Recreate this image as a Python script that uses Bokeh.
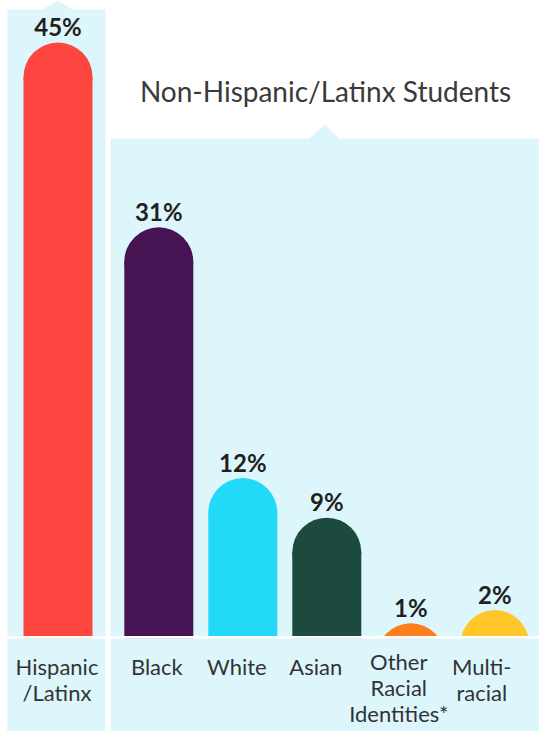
from bokeh.plotting import figure
from bokeh.models import Range1d, ColumnDataSource
from bokeh.core.properties import value
from bokeh.embed import file_html
from bokeh.resources import INLINE

# ---------------- data ----------------
categories = ["Hispanic\n/Latinx", "Black", "White", "Asian",
              "Other\nRacial\nIdentities*", "Multi-\nracial"]
percents = [45, 31, 12, 9, 1, 2]
bar_colors = ["#FF4540", "#461452", "#22DAF7", "#1D4A3E", "#FF7E1C", "#FFC72A"]
title_text = "Non-Hispanic/Latinx Students"

# ---------------- layout ----------------
W, H = 539, 731
PX_X = 84.0      # pixels per x unit
X0 = 57.5        # pixel of x = 0
PX_Y = 13.2      # pixels per percent
Y0 = 636.0       # pixel of the baseline (0 %)
BAR_W = 69.0     # bar width in pixels
PANEL = "#DDF6FC"


def dx(px):
    return (px - X0) / PX_X


def dy(py):
    return (Y0 - py) / PX_Y


x_pos = [0.0] + [1.2 + i for i in range(5)]
label_dx = [-1, -2, -6, -11, -12, -13]
label_dy = [0, 0, 0, 0, -5, 0]

p = figure(width=W, height=H, x_range=Range1d(dx(0), dx(W)),
           y_range=Range1d(dy(H), dy(0)), output_backend="svg",
           toolbar_location=None, min_border=0,
           x_axis_location=None, y_axis_location=None)
p.grid.visible = False
p.outline_line_color = None
p.background_fill_color = "white"
p.border_fill_color = "white"

# background panels with pointer notches
left_panel = [(7, H), (7, 9), (42, 9), (57, 0), (72, 9), (105, 9), (105, H)]
right_panel = [(110, H), (110, 138), (309, 138), (324, 124), (339, 138),
               (W, 138), (W, H)]
for pts in (left_panel, right_panel):
    p.patch([dx(a) for a, b in pts], [dy(b) for a, b in pts],
            fill_color=PANEL, line_color=None)

# bars: rectangle + round cap, top of cap at the value
r_data = (BAR_W / 2) / PX_Y
centers = [v - r_data for v in percents]
src = ColumnDataSource(dict(x=x_pos, v=percents, c=centers, color=bar_colors,
                            lab=[f"{v}%" for v in percents]))
p.vbar(x="x", top="c", bottom=dy(H), width=BAR_W / PX_X, source=src,
       fill_color="color", line_color=None)
p.scatter(x="x", y="c", size=BAR_W, marker="circle", source=src,
          fill_color="color", line_color=None)

# cover below the baseline
p.quad(left=[dx(7), dx(110)], right=[dx(105), dx(W)],
       top=[dy(638), dy(638)], bottom=[dy(H), dy(H)],
       fill_color=PANEL, line_color=None)
p.quad(left=[dx(105)], right=[dx(110)], top=[dy(636)], bottom=[dy(H)],
       fill_color="white", line_color=None)
p.quad(left=[dx(0)], right=[dx(W)], top=[dy(635.6)], bottom=[dy(638.3)],
       fill_color="white", line_color=None)

# value labels
p.text(x="x", y="v", text="lab", source=src, y_offset=-16,
       text_align="center", text_baseline="alphabetic",
       text_font=value("Lato"), text_font_style="bold",
       text_font_size="24px", text_color="#231F20")

# category labels
for xi, cat, ox, oy in zip(x_pos, categories, label_dx, label_dy):
    p.text(x=[xi], y=[dy(652)], text=[cat], x_offset=ox, y_offset=oy,
           text_align="center", text_baseline="top",
           text_font=value("Lato"), text_font_size="22px",
           text_color="#333333", text_line_height=0.97)

# title
p.text(x=[dx(325)], y=[dy(90)], text=[title_text], text_align="center",
       text_baseline="alphabetic", text_font=value("Lato"),
       text_font_size="28px", text_color="#3A3A3A")

open("out.html", "w").write(file_html(p, INLINE))
